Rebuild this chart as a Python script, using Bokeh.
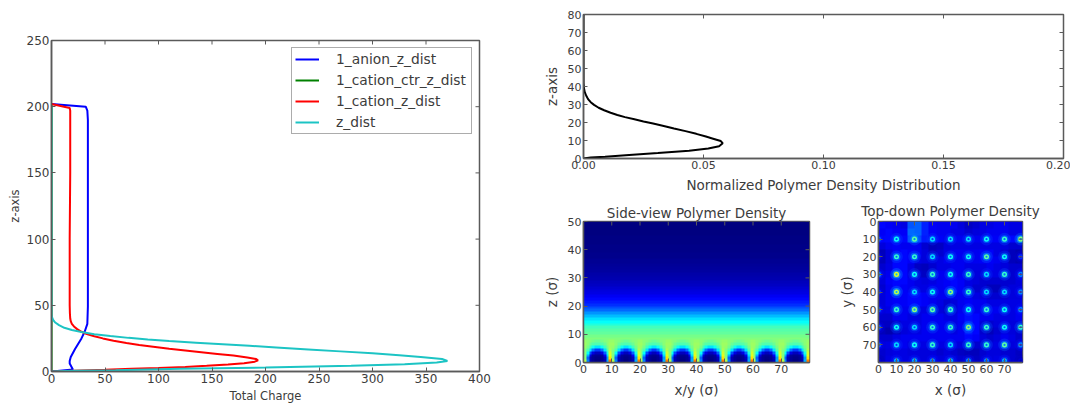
import numpy as np
from bokeh.embed import file_html
from bokeh.resources import INLINE
from bokeh.plotting import figure
from bokeh.layouts import row, column
from bokeh.models import Range1d, FixedTicker, Legend, LegendItem, LinearColorMapper

# --- Total charge profile (charge, z)
anion_q = [0, 8, 20, 19, 17, 17, 18, 22, 28, 31, 33.5, 34, 34, 34, 34, 33.5, 32, 0]
anion_z = [0, 0.6, 1.5, 3, 6, 8, 11, 17, 25, 30, 36, 49, 100, 150, 190, 197, 200, 202]
ctr_q = [0, 0, 0]
ctr_z = [0, 100, 202]
cation_q = [0, 20, 50, 75, 100, 125, 145, 165, 180, 190, 193, 191, 183, 170, 155, 140, 125, 110, 95, 82, 70, 58, 48, 40, 33, 28, 24, 21, 19, 18, 17.5, 17.2, 17, 17, 17.5, 17.5, 17, 0]
cation_z = [0, 0.6, 1.3, 2, 2.6, 3.4, 4.3, 5.3, 6.3, 7.4, 8.5, 9.5, 10.5, 12, 13.3, 14.6, 15.9, 17.2, 18.7, 20, 21.5, 23.2, 25, 26.6, 28.3, 30, 32, 34, 36, 38, 40, 44, 50, 100, 150, 197, 199, 202]
zdist_q = [0, 20, 60, 120, 200, 280, 330, 360, 370, 365, 345, 325, 300, 270, 240, 210, 185, 160, 135, 110, 90, 72, 55, 40, 28, 19, 12, 7, 3.5, 1.5, 0, 0, 0]
zdist_z = [0, 0.5, 1, 2, 3, 4.3, 5.5, 6.8, 8, 9.5, 11, 12.2, 13.7, 15.2, 16.7, 18.2, 19.4, 20.6, 21.8, 23, 24.2, 25.4, 26.8, 28.2, 29.8, 31.3, 33, 35, 37, 39, 42, 100, 200]

# --- Normalized polymer density
dens_x = [0, .003, .009, .019, .031, .044, .052, .0565, .058, .0572, .054, .051, .047, .0425, .0377, .033, .029, .025, .0212, .0173, .0141, .0113, .0086, .0063, .0044, .003, .0019, .0011, .0005, .0002, 0, 0]
dens_z = [0, .5, 1, 2, 3, 4.3, 5.5, 6.8, 8.5, 9.7, 11, 12.2, 13.7, 15.2, 16.7, 18.2, 19.4, 20.6, 21.8, 23, 24.2, 25.4, 26.8, 28.2, 29.8, 31.3, 33, 35, 37, 39, 42, 80]

# --- Side view: one 10-sigma period for z = 0..7, then a level per z
side_cell = [
    [.55, .25, .05, .02, .00, .00, .02, .05, .30, .75],
    [.50, .22, .05, .02, .01, .01, .02, .06, .28, .65],
    [.50, .30, .10, .03, .02, .02, .03, .12, .34, .60],
    [.50, .38, .20, .10, .06, .06, .10, .22, .40, .58],
    [.50, .45, .35, .24, .18, .18, .24, .35, .46, .55],
    [.52, .49, .44, .39, .35, .35, .39, .44, .49, .53],
    [.53, .51, .48, .46, .45, .45, .46, .48, .51, .53],
    [.52, .51, .50, .49, .48, .48, .49, .50, .51, .52],
]
side_levels = [.50, .49, .47, .46, .44, .41, .38, .35, .31, .27, .23, .20, .17, .15, .13, .115, .10, .09,
               .08, .07, .06, .05, .045, .04, .035, .03, .025, .02, .02, .015, .015, .01, .01, .01, .005,
               .005, .005, 0, 0, 0, 0, 0]

# --- Top-down view: background at 4-sigma steps (rows y = 0,4,..; columns x = 0,4,..)
top_bg = [
    [.13, .12, .11, .10, .21, .22, .16, .12, .11, .11, .11, .09, .07, .08, .10, .10, .11, .11, .10, .10],
    [.12, .13, .12, .12, .23, .22, .16, .12, .11, .11, .10, .10, .08, .09, .10, .11, .11, .11, .10, .10],
    [.13, .13, .13, .13, .20, .19, .15, .12, .12, .11, .11, .11, .11, .11, .11, .12, .12, .12, .13, .15],
    [.09, .11, .12, .11, .11, .11, .08, .06, .07, .09, .10, .10, .10, .10, .10, .10, .10, .09, .08, .08],
    [.06, .09, .12, .13, .12, .11, .09, .07, .08, .10, .11, .11, .11, .11, .12, .12, .10, .08, .06, .05],
    [.06, .09, .13, .13, .12, .10, .09, .09, .10, .11, .11, .11, .11, .11, .12, .12, .11, .09, .06, .05],
    [.08, .10, .13, .13, .10, .07, .06, .08, .10, .10, .11, .11, .10, .10, .10, .11, .10, .09, .08, .08],
    [.09, .11, .13, .13, .10, .08, .07, .09, .11, .11, .11, .11, .10, .09, .09, .10, .10, .09, .08, .08],
    [.09, .12, .13, .13, .11, .10, .09, .10, .11, .12, .13, .12, .10, .09, .08, .08, .08, .08, .08, .09],
    [.08, .11, .13, .12, .11, .10, .10, .11, .11, .12, .13, .12, .10, .08, .08, .06, .06, .08, .09, .09],
    [.09, .11, .12, .12, .13, .13, .12, .11, .11, .11, .11, .11, .11, .10, .09, .08, .08, .08, .09, .09],
    [.09, .11, .12, .12, .13, .13, .12, .11, .10, .08, .09, .11, .12, .11, .11, .10, .10, .10, .10, .10],
    [.09, .10, .11, .11, .11, .10, .10, .10, .09, .08, .09, .11, .13, .11, .11, .11, .11, .10, .10, .11],
    [.08, .08, .11, .11, .10, .10, .11, .11, .11, .10, .10, .12, .14, .13, .11, .11, .10, .10, .10, .11],
    [.07, .07, .08, .10, .10, .10, .11, .11, .11, .11, .10, .11, .15, .13, .09, .08, .09, .10, .09, .09],
    [.06, .05, .07, .09, .10, .10, .11, .11, .11, .11, .10, .11, .15, .13, .08, .06, .08, .10, .09, .08],
    [.08, .08, .10, .11, .11, .11, .11, .11, .11, .11, .11, .11, .13, .12, .09, .08, .09, .11, .10, .08],
    [.09, .10, .11, .11, .10, .10, .10, .11, .10, .10, .10, .09, .09, .08, .08, .09, .10, .11, .09, .08],
    [.08, .09, .10, .10, .09, .09, .09, .09, .08, .09, .08, .07, .06, .06, .08, .09, .09, .08, .08, .07],
    [.08, .10, .10, .10, .10, .09, .09, .10, .09, .10, .09, .08, .07, .07, .08, .09, .10, .09, .08, .08],
]
spot_xs = [0, 10, 20, 30, 40, 50, 60, 70, 79]
spot_ys = [10, 20, 30, 40, 50, 60, 70, 79]
spot_level = [
    [.25, .45, .55, .40, .40, .40, .45, .50, .60],
    [.15, .50, .50, .40, .45, .45, .55, .45, .20],
    [.30, .70, .45, .50, .45, .50, .40, .50, .30],
    [.20, .65, .40, .45, .60, .50, .40, .40, .30],
    [.25, .50, .60, .55, .50, .45, .50, .45, .30],
    [.25, .45, .40, .50, .50, .60, .50, .45, .50],
    [.25, .40, .45, .50, .40, .50, .50, .55, .30],
    [.10, .35, .35, .30, .35, .30, .30, .35, .10],
]

x1_ticks = [0, 50, 100, 150, 200, 250, 300, 350, 400]
y1_ticks = [0, 50, 100, 150, 200, 250]
x2_ticks = [0, 0.05, 0.10, 0.15, 0.20]
x2_labels = ["0.00", "0.05", "0.10", "0.15", "0.20"]
y2_ticks = [0, 10, 20, 30, 40, 50, 60, 70, 80]
x3_ticks = [0, 10, 20, 30, 40, 50, 60, 70]
y3_ticks = [0, 10, 20, 30, 40, 50]
xy4_ticks = [0, 10, 20, 30, 40, 50, 60, 70]

FONT = "DejaVu Sans"
TXT = "#3c3c3c"
EDGE = "#5a5a5a"


def jet(v):
    v = np.clip(np.asarray(v, dtype=float), 0, 1)
    r = np.clip(np.minimum(4 * v - 1.5, -4 * v + 4.5), 0, 1)
    g = np.clip(np.minimum(4 * v - 0.5, -4 * v + 3.5), 0, 1)
    b = np.clip(np.minimum(4 * v + 0.5, -4 * v + 2.5), 0, 1)
    return np.stack([r, g, b], axis=-1)


def hexcol(v):
    return "#%02x%02x%02x" % tuple(int(round(c * 255)) for c in jet(v))


JET = [hexcol(i / 255) for i in range(256)]


def style(p, xt, yt, tick_px, lab_px, overrides=None):
    for ax, t in ((p.xaxis[0], xt), (p.yaxis[0], yt)):
        ax.ticker = FixedTicker(ticks=t)
        ax.major_tick_in = 4
        ax.major_tick_out = 0
        ax.minor_tick_line_color = None
        ax.axis_line_color = EDGE
        ax.axis_line_width = 1.5
        ax.major_tick_line_color = EDGE
        ax.major_label_text_font = FONT
        ax.major_label_text_font_size = tick_px
        ax.major_label_text_color = TXT
        ax.axis_label_text_font = FONT
        ax.axis_label_text_font_size = lab_px
        ax.axis_label_text_font_style = "normal"
        ax.axis_label_text_color = TXT
        ax.major_label_standoff = 2
    if overrides:
        p.xaxis[0].major_label_overrides = overrides
    p.grid.visible = False
    p.outline_line_color = EDGE
    p.outline_line_width = 1.5
    p.background_fill_color = "white"
    p.border_fill_color = "white"


def mirror_ticks(p, xt, yt):
    # inward ticks on the top and right edges; half of each mark is clipped by the frame
    top, right = p.y_range.end, p.x_range.end
    p.scatter(xt, [top] * len(xt), marker="dash", size=8, angle=np.pi / 2, line_color=EDGE, line_width=1)
    p.scatter([right] * len(yt), yt, marker="dash", size=8, line_color=EDGE, line_width=1)


def fig(w, h, l, r, t, b, xr, yr, **kw):
    return figure(width=w, height=h, min_border_left=l, min_border_right=r, min_border_top=t,
                  min_border_bottom=b, x_range=Range1d(*xr), y_range=Range1d(*yr),
                  output_backend="svg", toolbar_location=None, **kw)


# Left panel
p1 = fig(520, 405, 51, 41, 40, 34, (0, 400), (0, 250), x_axis_label="Total Charge", y_axis_label="z-axis")
style(p1, x1_ticks, y1_ticks, "12px", "11.5px")
p1.xaxis[0].axis_label_standoff = 3
p1.yaxis[0].axis_label_standoff = 2
r_a = p1.line(anion_q, anion_z, line_color="#0000ff", line_width=2)
r_g = p1.line(ctr_q, ctr_z, line_color="#008000", line_width=2)
r_c = p1.line(cation_q, cation_z, line_color="#ff0000", line_width=2)
r_z = p1.line(zdist_q, zdist_z, line_color="#1cc4c4", line_width=2)
mirror_ticks(p1, x1_ticks, y1_ticks)
leg = Legend(items=[LegendItem(label="1_anion_z_dist", renderers=[r_a]),
                    LegendItem(label="1_cation_ctr_z_dist", renderers=[r_g]),
                    LegendItem(label="1_cation_z_dist", renderers=[r_c]),
                    LegendItem(label="z_dist", renderers=[r_z])],
             location="top_right", margin=7, padding=3, spacing=5, glyph_width=24, glyph_height=14,
             label_height=14, label_width=132, label_standoff=17, label_text_font=FONT,
             label_text_font_size="13.8px", label_text_color=TXT, border_line_color=EDGE,
             border_line_width=1.5)
p1.add_layout(leg, "center")

# Upper right panel
p2 = fig(550, 195, 63, 7, 14, 37, (0, 0.2), (0, 80),
         x_axis_label="Normalized Polymer Density Distribution", y_axis_label="z-axis")
style(p2, x2_ticks, y2_ticks, "11px", "13.5px", dict(zip(x2_ticks, x2_labels)))
p2.xaxis[0].axis_label_standoff = 5
p2.line(dens_x, dens_z, line_color="#000000", line_width=2)
mirror_ticks(p2, x2_ticks, y2_ticks)

# Side view
side = np.array([np.tile(r, 8) for r in side_cell] + [np.full(80, v) for v in side_levels])
p3 = fig(314, 210, 63, 25, 26, 43, (0, 80), (0, 50), title="Side-view Polymer Density",
         x_axis_label="x/y (σ)", y_axis_label="z (σ)")
style(p3, x3_ticks, y3_ticks, "11px", "13.5px")
p3.image(image=[side], x=0, y=0, dw=80, dh=50, color_mapper=LinearColorMapper(palette=JET, low=0, high=1))
mirror_ticks(p3, x3_ticks, y3_ticks)
p3.xaxis[0].axis_label_standoff = 6

# Top-down view
p4 = fig(236, 210, 44, 48, 24, 42, (0, 80), (80, 0), title="Top-down Polymer Density",
         x_axis_label="x (σ)", y_axis_label="y (σ)")
style(p4, xy4_ticks, xy4_ticks, "11px", "13.5px")
p4.image(image=[np.array(top_bg)], x=0, y=0, dw=80, dh=80,
         color_mapper=LinearColorMapper(palette=JET, low=0, high=1))
sx, sy, sv = [], [], []
for yy, line in zip(spot_ys, spot_level):
    for xx, lv in zip(spot_xs, line):
        sx.append(xx); sy.append(yy); sv.append(lv)
p4.circle(sx, sy, radius=3.5, fill_color=[hexcol(v * 0.45) for v in sv], fill_alpha=0.25, line_color=None)
p4.circle(sx, sy, radius=2.2, fill_color=[hexcol(v * 0.6) for v in sv], fill_alpha=0.4, line_color=None)
p4.circle(sx, sy, radius=1.4, fill_color=[hexcol(v * 0.85) for v in sv], line_color=None)
p4.circle(sx, sy, radius=0.6, fill_color=[hexcol(v * 0.45) for v in sv], line_color=None)
mirror_ticks(p4, xy4_ticks, xy4_ticks)
p4.xaxis[0].axis_label_standoff = 6

for p in (p3, p4):
    p.title.text_font = FONT
    p.title.text_font_size = "13.5px"
    p.title.text_font_style = "normal"
    p.title.text_color = TXT
    p.title.align = "center"
    p.title.standoff = 2
p4.title.standoff = 5

root = row(p1, column(p2, row(p3, p4)))
open("out.html", "w").write(file_html(root, INLINE))
